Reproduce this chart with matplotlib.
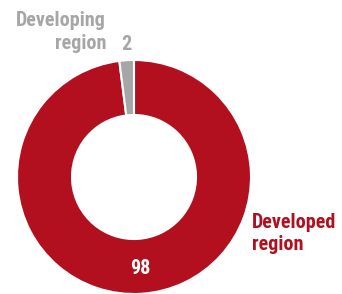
import matplotlib
matplotlib.use("Agg")
import matplotlib.pyplot as plt
from matplotlib import font_manager

categories = ["Developed region", "Developing region"]
values = [98, 2]
value_labels = ["98", "2"]
colors = ["#B20F1F", "#A6A6A6"]

names = {f.name for f in font_manager.fontManager.ttflist}
fam = "DejaVu Sans"
for cand in ["Roboto Condensed", "Liberation Sans Narrow", "Arial Narrow", "Open Sans Condensed"]:
    if cand in names:
        fam = cand
        break
stretch = "condensed"

W, H = 342, 294
fig = plt.figure(figsize=(W / 100, H / 100), dpi=100)
ax = fig.add_axes([0, 0, 1, 1])
cx, cy, R = 134, 177, 117

ax.pie(values, colors=colors, startangle=90, counterclock=False, radius=1,
       wedgeprops=dict(width=0.47, edgecolor="white", linewidth=1.5))
ax.set_xlim(-cx / R, (W - cx) / R)
ax.set_ylim(-(H - cy) / R, cy / R)
ax.set_aspect("equal", adjustable="datalim")
ax.axis("off")

fp = dict(fontweight="bold", family=fam, stretch=stretch, fontsize=14.5)
ax.text((140 - cx) / R, (cy - 268) / R, value_labels[0], color="white", ha="center", va="center", **fp)
ax.text((126 - cx) / R, (cy - 44) / R, value_labels[1], color=colors[1], ha="center", va="center", **fp)
ax.text((106 - cx) / R, (cy - 32) / R, "Developing\nregion", color=colors[1],
        ha="right", va="center", linespacing=1.25, **fp)
ax.text((252 - cx) / R, (cy - 234) / R, "Developed\nregion", color=colors[0],
        ha="left", va="center", linespacing=1.2, **fp)

fig.savefig("out.png", dpi=100)
